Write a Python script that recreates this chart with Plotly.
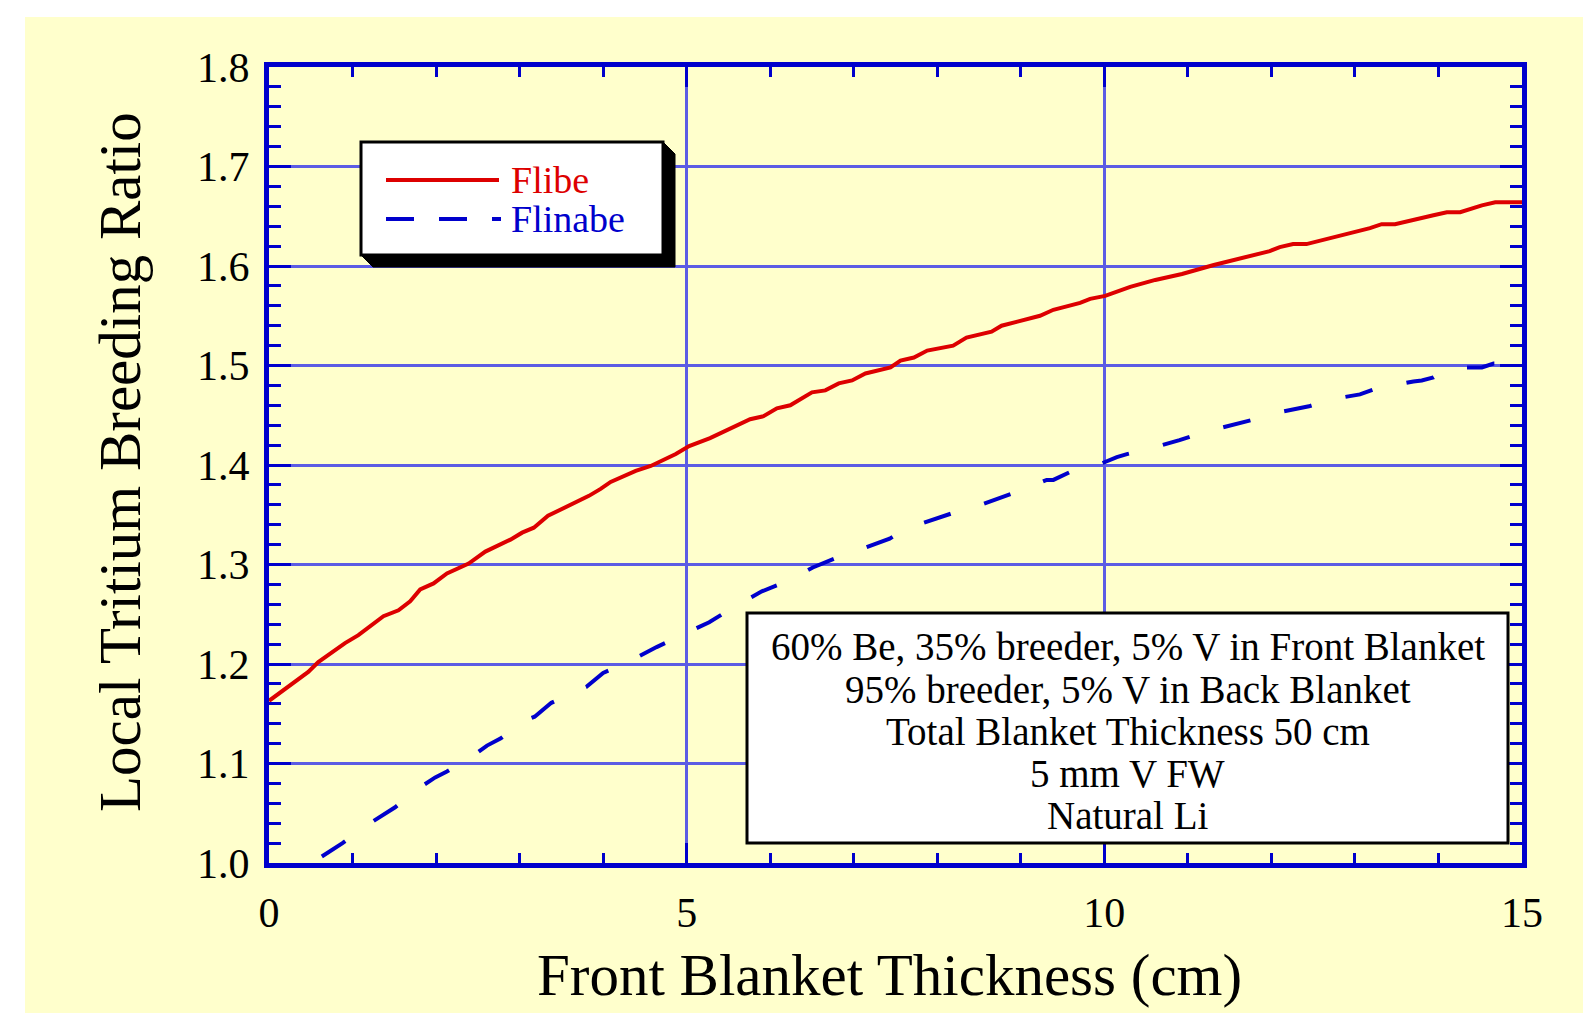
import plotly.graph_objects as go

# ---------------- data ----------------
flibe_x = [0, 0.47, 0.59, 0.91, 1.07, 1.37, 1.55, 1.69, 1.81, 1.97, 2.13, 2.39, 2.59, 2.89, 3.03,
           3.17, 3.34, 3.63, 3.83, 3.97, 4.09, 4.39, 4.57, 4.87, 5.03, 5.28, 5.76, 5.92, 6.08, 6.24,
           6.50, 6.66, 6.82, 6.98, 7.14, 7.44, 7.56, 7.72, 7.88, 8.19, 8.35, 8.65, 8.77, 9.23, 9.39,
           9.71, 9.83, 10.01, 10.31, 10.61, 10.93, 11.31, 11.67, 11.98, 12.10, 12.26, 12.42, 12.86,
           13.18, 13.32, 13.48, 13.94, 14.10, 14.26, 14.52, 14.68, 15.0]
flibe_y = [1.163, 1.192, 1.202, 1.221, 1.229, 1.248, 1.254, 1.263, 1.275, 1.281, 1.291, 1.301, 1.313,
           1.325, 1.332, 1.337, 1.349, 1.361, 1.369, 1.376, 1.383, 1.394, 1.399, 1.411, 1.419, 1.427,
           1.446, 1.449, 1.457, 1.460, 1.473, 1.475, 1.482, 1.485, 1.492, 1.498, 1.505, 1.508, 1.515,
           1.520, 1.528, 1.534, 1.540, 1.550, 1.556, 1.563, 1.567, 1.570, 1.579, 1.586, 1.592, 1.601,
           1.609, 1.615, 1.619, 1.622, 1.622, 1.631, 1.638, 1.642, 1.642, 1.651, 1.654, 1.654, 1.661,
           1.664, 1.664]

flinabe_x = [0, 0.54, 0.61, 0.88, 1.19, 1.39, 1.51, 1.79, 1.99, 2.13, 2.43, 2.61, 2.77, 3.06, 3.18,
             3.38, 3.68, 3.80, 4.00, 4.30, 4.64, 4.93, 5.04, 5.27, 5.58, 5.90, 6.20, 6.36, 6.51, 6.80,
             7.00, 7.14, 7.43, 7.57, 7.71, 7.77, 8.07, 8.23, 8.39, 8.69, 8.83, 8.93, 9.02, 9.31, 9.39,
             9.64, 9.95, 10.15, 10.27, 10.57, 10.75, 10.90, 11.19, 11.53, 11.82, 11.99, 12.15, 12.45,
             12.72, 13.06, 13.32, 13.40, 13.70, 13.80, 13.94, 14.04, 14.32, 14.52, 14.66, 15.0]
flinabe_y = [0.972, 1.002, 1.006, 1.020, 1.039, 1.050, 1.056, 1.075, 1.086, 1.092, 1.107, 1.118, 1.125,
             1.143, 1.147, 1.161, 1.173, 1.177, 1.191, 1.202, 1.217, 1.229, 1.233, 1.242, 1.258, 1.273,
             1.283, 1.290, 1.297, 1.307, 1.314, 1.317, 1.326, 1.333, 1.336, 1.340, 1.349, 1.353, 1.356,
             1.365, 1.370, 1.372, 1.375, 1.385, 1.385, 1.395, 1.401, 1.408, 1.411, 1.417, 1.421, 1.425,
             1.433, 1.440, 1.446, 1.450, 1.454, 1.459, 1.466, 1.471, 1.479, 1.479, 1.484, 1.485, 1.488,
             1.493, 1.498, 1.498, 1.502, 1.502]

series_names = ["Flibe", "Flinabe"]
x_tick_vals = [0, 5, 10, 15]
x_tick_text = ["0", "5", "10", "15"]
info_lines = ["60% Be, 35% breeder, 5% V in Front Blanket",
              "95% breeder, 5% V in Back Blanket",
              "Total Blanket Thickness 50 cm",
              "5 mm V FW",
              "Natural Li"]
x_title = "Front Blanket Thickness (cm)"
y_title = "Local Tritium Breeding Ratio"

# ---------------- styling ----------------
SW, SH = 1591, 1013          # screen size
OFF = 8                      # default body margin of the html page
W, H = SW - OFF, SH - OFF    # figure size so it ends at the screen edge
# plot area in screen pixels
L, R, T, B = 269, 1522, 67, 863
FONT = "Liberation Serif, Times New Roman, serif"
BG = "#FFFFCC"
AX = "#0000CC"
GRID = "#5c5ce4"
RED = "#DD0000"
BLUE = "#0000CC"


def px(x):
    return (x - L) / (R - L)


def py(y):
    return (B - y) / (B - T)


fig = go.Figure()
fig.add_trace(go.Scatter(x=flibe_x, y=flibe_y, mode="lines", name=series_names[0],
                         line=dict(color=RED, width=4), showlegend=False))
fig.add_trace(go.Scatter(x=flinabe_x, y=flinabe_y, mode="lines", name=series_names[1],
                         line=dict(color=BLUE, width=4, dash="28px,35px"), showlegend=False))

shapes = []
# white page margins (top and left)
shapes.append(dict(type="rect", xref="paper", yref="paper", x0=px(0), x1=px(SW), y0=py(0), y1=py(17),
                   fillcolor="white", line=dict(width=0), layer="below"))
shapes.append(dict(type="rect", xref="paper", yref="paper", x0=px(0), x1=px(25), y0=py(0), y1=py(SH),
                   fillcolor="white", line=dict(width=0), layer="below"))

# legend box with shadow
lx0, ly0, lx1, ly1, sh = 361, 142, 663, 255, 12
path = "M {} {} L {} {} L {} {} L {} {} L {} {} L {} {} Z".format(
    px(lx0), py(ly1), px(lx0 + sh), py(ly1 + sh), px(lx1 + sh), py(ly1 + sh),
    px(lx1 + sh), py(ly0 + sh), px(lx1), py(ly0), px(lx1), py(ly1))
shapes.append(dict(type="path", xref="paper", yref="paper", path=path, fillcolor="black",
                   line=dict(color="black", width=1), layer="above"))
shapes.append(dict(type="rect", xref="paper", yref="paper", x0=px(lx0), x1=px(lx1), y0=py(ly1), y1=py(ly0),
                   fillcolor="white", line=dict(color="black", width=3), layer="above"))
shapes.append(dict(type="line", xref="paper", yref="paper", x0=px(386), x1=px(499), y0=py(180), y1=py(180),
                   line=dict(color=RED, width=4), layer="above"))
shapes.append(dict(type="line", xref="paper", yref="paper", x0=px(386), x1=px(501), y0=py(219), y1=py(219),
                   line=dict(color=BLUE, width=4, dash="28px,25px"), layer="above"))

# info box
bx0, by0, bx1, by1 = 747, 613, 1508, 843
shapes.append(dict(type="rect", xref="paper", yref="paper", x0=px(bx0), x1=px(bx1), y0=py(by1), y1=py(by0),
                   fillcolor="white", line=dict(color="black", width=3), layer="above"))

annotations = []
annotations.append(dict(xref="paper", yref="paper", x=px(509), y=py(180), xanchor="left", yanchor="middle",
                        text=series_names[0], showarrow=False, font=dict(family=FONT, size=38, color=RED)))
annotations.append(dict(xref="paper", yref="paper", x=px(509), y=py(219), xanchor="left", yanchor="middle",
                        text=series_names[1], showarrow=False, font=dict(family=FONT, size=38, color=BLUE)))
line_y = [646, 689, 731, 773, 815]
for txt, yy in zip(info_lines, line_y):
    annotations.append(dict(xref="paper", yref="paper", x=px((bx0 + bx1) / 2), y=py(yy),
                            xanchor="center", yanchor="middle", text=txt, showarrow=False,
                            font=dict(family=FONT, size=39, color="black")))
annotations.append(dict(xref="paper", yref="paper", x=px(889), y=py(975), xanchor="center", yanchor="middle",
                        text=x_title, showarrow=False, font=dict(family=FONT, size=59, color="black")))
annotations.append(dict(xref="paper", yref="paper", x=px(120), y=py(462), xanchor="center", yanchor="middle",
                        text=y_title, textangle=-90, showarrow=False,
                        font=dict(family=FONT, size=59, color="black")))

fig.update_layout(
    width=W, height=H,
    margin=dict(l=L - OFF, r=SW - R, t=T - OFF, b=SH - B, pad=0, autoexpand=False),
    paper_bgcolor=BG, plot_bgcolor=BG,
    shapes=shapes, annotations=annotations,
    showlegend=False,
    font=dict(family=FONT, color="black"),
)
fig.update_xaxes(
    range=[0, 15], showline=True, linecolor=AX, linewidth=5, mirror="ticks",
    ticks="inside", tickmode="array", tickvals=x_tick_vals, ticktext=x_tick_text,
    ticklen=20, tickwidth=3, tickcolor=AX,
    minor=dict(dtick=1, tick0=0, ticks="inside", ticklen=10, tickwidth=3, tickcolor=AX, showgrid=False),
    showgrid=True, gridcolor=GRID, gridwidth=3, zeroline=False, automargin=False,
    tickfont=dict(family=FONT, size=42, color="black"), ticklabelstandoff=9,
)
fig.update_yaxes(
    range=[1.0, 1.8], showline=True, linecolor=AX, linewidth=5, mirror="ticks",
    ticks="inside", dtick=0.1, tick0=1.0, tickformat=".1f",
    ticklen=22, tickwidth=3, tickcolor=AX,
    minor=dict(dtick=0.02, tick0=1.0, ticks="inside", ticklen=12, tickwidth=3, tickcolor=AX, showgrid=False),
    showgrid=True, gridcolor=GRID, gridwidth=3, zeroline=False, automargin=False,
    tickfont=dict(family=FONT, size=42, color="black"), ticklabelstandoff=6,
)

fig.write_html("out.html")
